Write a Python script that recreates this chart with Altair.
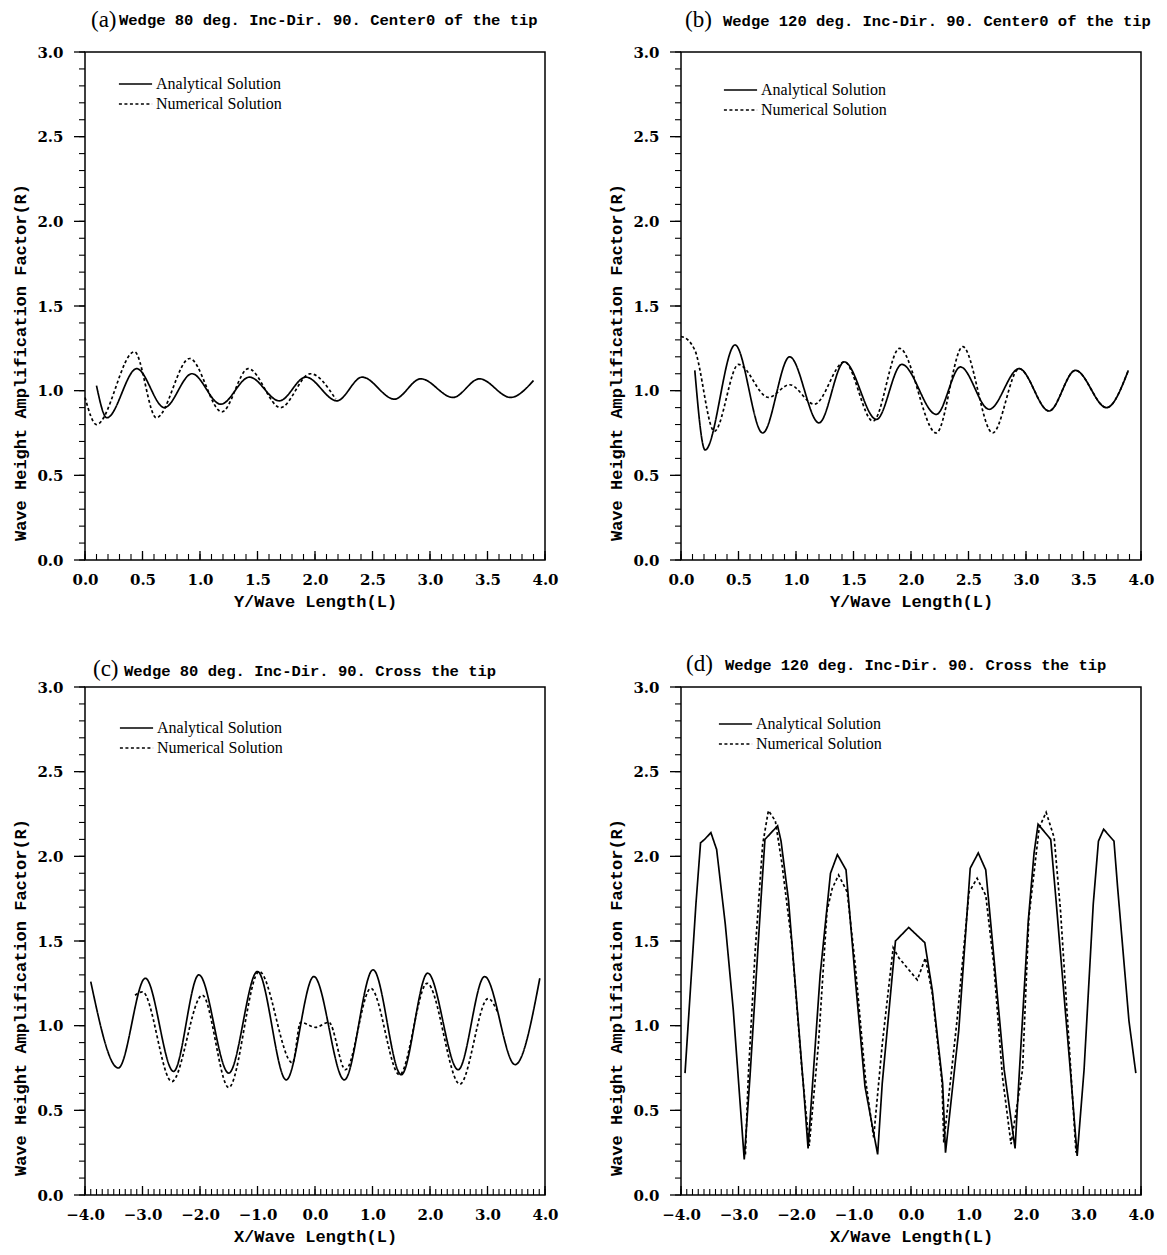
import altair as alt
import pandas as pd

SERIES = ["Analytical Solution", "Numerical Solution"]
Y_TITLE = "Wave Height Amplification Factor(R)"
Y_LABELS = [0.0, 0.5, 1.0, 1.5, 2.0, 2.5, 3.0]
Y_MINOR = [round(i * 0.1, 1) for i in range(31)]
X_LABELS_AB = [0.0, 0.5, 1.0, 1.5, 2.0, 2.5, 3.0, 3.5, 4.0]
X_MINOR_AB = [round(i * 0.1, 1) for i in range(41)]
X_LABELS_CD = [-4.0, -3.0, -2.0, -1.0, 0.0, 1.0, 2.0, 3.0, 4.0]
X_MINOR_CD = [round(-4 + i * 0.1, 1) for i in range(81)]

# ---- panel (a): Wedge 80 deg, along the centre line
A_ANA_X = [0.10, 0.19, 0.45, 0.69, 0.93, 1.18, 1.43, 1.69, 1.92, 2.19, 2.41, 2.69, 2.92, 3.20, 3.43, 3.70, 3.90]
A_ANA_Y = [1.03, 0.84, 1.13, 0.90, 1.10, 0.92, 1.08, 0.94, 1.08, 0.94, 1.08, 0.95, 1.07, 0.96, 1.07, 0.96, 1.06]
A_NUM_X = [0.00, 0.10, 0.43, 0.62, 0.91, 1.19, 1.42, 1.70, 1.96, 2.18]
A_NUM_Y = [0.96, 0.80, 1.23, 0.84, 1.19, 0.875, 1.13, 0.90, 1.10, 0.95]

# ---- panel (b): Wedge 120 deg, along the centre line
B_ANA_X = [0.12, 0.21, 0.47, 0.71, 0.945, 1.20, 1.42, 1.70, 1.92, 2.22, 2.43, 2.68, 2.94, 3.20, 3.43, 3.70, 3.89]
B_ANA_Y = [1.12, 0.65, 1.27, 0.75, 1.20, 0.81, 1.17, 0.83, 1.155, 0.86, 1.14, 0.89, 1.13, 0.88, 1.12, 0.90, 1.12]
B_NUM_X = [0.00, 0.06, 0.12, 0.29, 0.50, 0.76, 0.945, 1.16, 1.42, 1.67, 1.90, 2.22, 2.45, 2.71, 2.94, 3.20, 3.43, 3.70, 3.89]
B_NUM_Y = [1.32, 1.30, 1.24, 0.76, 1.155, 0.96, 1.035, 0.92, 1.17, 0.82, 1.25, 0.75, 1.26, 0.75, 1.13, 0.88, 1.12, 0.90, 1.12]

# ---- panel (c): Wedge 80 deg, across the tip
C_ANA_X = [-3.90, -3.42, -2.95, -2.46, -2.02, -1.50, -1.00, -0.50, -0.02, 0.51, 1.01, 1.50, 1.96, 2.49, 2.95, 3.48, 3.91]
C_ANA_Y = [1.26, 0.75, 1.28, 0.73, 1.30, 0.72, 1.32, 0.68, 1.29, 0.68, 1.33, 0.71, 1.31, 0.74, 1.29, 0.77, 1.28]
C_NUM_X = [-3.13, -3.00, -2.49, -1.96, -1.50, -0.97, -0.39, -0.25, 0.01, 0.24, 0.53, 0.97, 1.47, 1.95, 2.52, 3.01, 3.19]
C_NUM_Y = [1.18, 1.20, 0.67, 1.18, 0.635, 1.32, 0.78, 1.02, 0.99, 1.02, 0.74, 1.22, 0.71, 1.25, 0.655, 1.16, 1.07]

# ---- panel (d): Wedge 120 deg, across the tip
D_ANA_X = [-3.93, -3.74, -3.66, -3.59, -3.48, -3.38, -3.23, -3.09, -2.90, -2.80, -2.61, -2.54, -2.32, -2.26,
           -2.13, -1.87, -1.79, -1.58, -1.40, -1.28, -1.13, -0.97, -0.80, -0.58, -0.50, -0.27, -0.04, 0.24,
           0.37, 0.55, 0.60, 0.83, 1.03, 1.17, 1.30, 1.41, 1.62, 1.81, 1.88, 2.04, 2.14, 2.21, 2.43, 2.52,
           2.78, 2.89, 3.01, 3.17, 3.26, 3.35, 3.53, 3.59, 3.79, 3.91]
D_ANA_Y = [0.72, 1.72, 2.08, 2.10, 2.14, 2.04, 1.60, 1.09, 0.21, 0.70, 1.74, 2.10, 2.18, 2.09,
           1.74, 0.64, 0.275, 1.30, 1.90, 2.01, 1.92, 1.28, 0.64, 0.24, 0.66, 1.50, 1.58, 1.49,
           1.21, 0.66, 0.25, 0.97, 1.93, 2.02, 1.92, 1.52, 0.74, 0.275, 0.70, 1.62, 2.02, 2.19, 2.10, 1.75,
           0.70, 0.23, 0.74, 1.72, 2.09, 2.16, 2.09, 1.83, 1.03, 0.72]
D_NUM_X = [-2.88, -2.83, -2.71, -2.58, -2.48, -2.36, -2.25, -2.07, -1.90, -1.77, -1.61, -1.46, -1.37, -1.26,
           -1.11, -0.97, -0.79, -0.65, -0.50, -0.31, -0.21, 0.11, 0.25, 0.37, 0.54, 0.57, 0.80, 1.01, 1.15,
           1.30, 1.44, 1.59, 1.74, 1.94, 2.05, 2.23, 2.35, 2.49, 2.60, 2.75, 2.87]
D_NUM_Y = [0.24, 0.70, 1.44, 2.07, 2.27, 2.21, 1.97, 1.48, 0.75, 0.29, 0.89, 1.68, 1.81, 1.89,
           1.79, 1.36, 0.68, 0.34, 0.89, 1.46, 1.40, 1.27, 1.40, 1.19, 0.66, 0.31, 1.03, 1.79, 1.87,
           1.77, 1.36, 0.70, 0.30, 0.74, 1.64, 2.17, 2.26, 2.11, 1.68, 0.89, 0.25]

W, H = 460, 508


def panel(letter, title, xtitle, xdomain, xlabels, xminor, xmajor_every,
          ana_x, ana_y, num_x, num_y, interp, title_dx, title_dy, letter_dx, letter_dy,
          leg_x, leg_y):
    df = pd.DataFrame({
        "x": ana_x + num_x,
        "y": ana_y + num_y,
        "s": [SERIES[0]] * len(ana_x) + [SERIES[1]] * len(num_x),
    })
    xs = alt.Scale(domain=xdomain, nice=False, zero=False)
    ys = alt.Scale(domain=[0, 3], nice=False, zero=False)
    xax = alt.Axis(values=xlabels, format=".1f", title=xtitle, ticks=False, domain=False, grid=False,
                   labelPadding=12, titlePadding=6, labelOverlap=False, labelFlush=False)
    yax = alt.Axis(values=Y_LABELS, format=".1f", title=Y_TITLE, ticks=False, domain=False, grid=False,
                   labelPadding=22, titlePadding=7, titleY=310, labelOverlap=False, labelFlush=False)
    lines = alt.Chart(df).mark_line(color="black", strokeWidth=1.7, interpolate=interp).encode(
        x=alt.X("x:Q", scale=xs, axis=xax),
        y=alt.Y("y:Q", scale=ys, axis=yax),
        strokeDash=alt.StrokeDash("s:N", scale=alt.Scale(domain=SERIES, range=[[1, 0], [3, 2.5]]),
                                  legend=alt.Legend(title=None, orient="none", legendX=leg_x, legendY=leg_y,
                                                    symbolType="stroke", symbolSize=1100,
                                                    symbolStrokeWidth=1.4, symbolStrokeColor="black",
                                                    labelFont="Liberation Serif", labelFontSize=16,
                                                    labelColor="black", labelOffset=3,
                                                    clipHeight=20, rowPadding=0)),
    )
    tx = pd.DataFrame({"x": xminor})
    txm = pd.DataFrame({"x": [v for v in xminor if abs(v / xmajor_every - round(v / xmajor_every)) < 1e-6]})
    ty = pd.DataFrame({"y": Y_MINOR})
    tym = pd.DataFrame({"y": Y_LABELS})
    xminor_l = alt.Chart(tx).mark_rule(color="black", strokeWidth=1.1).encode(
        x=alt.X("x:Q", scale=xs, axis=xax), y=alt.value(H), y2=alt.value(H - 6))
    xmajor_l = alt.Chart(txm).mark_rule(color="black", strokeWidth=1.3).encode(
        x=alt.X("x:Q", scale=xs, axis=xax), y=alt.value(H), y2=alt.value(H - 9))
    yminor_l = alt.Chart(ty).mark_rule(color="black", strokeWidth=1.1).encode(
        y=alt.Y("y:Q", scale=ys, axis=yax), x=alt.value(0), x2=alt.value(-6))
    ymajor_l = alt.Chart(tym).mark_rule(color="black", strokeWidth=1.3).encode(
        y=alt.Y("y:Q", scale=ys, axis=yax), x=alt.value(0), x2=alt.value(-11))
    lab = pd.DataFrame({"letter": [letter], "title": [title]})
    let = alt.Chart(lab).mark_text(
        font="Liberation Serif", fontSize=23, align="left", baseline="alphabetic", color="black"
    ).encode(text="letter:N", x=alt.value(letter_dx), y=alt.value(letter_dy))
    ttl = alt.Chart(lab).mark_text(
        font="Liberation Mono", fontSize=15.5, fontWeight="bold", align="left", baseline="alphabetic",
        color="black"
    ).encode(text="title:N", x=alt.value(title_dx), y=alt.value(title_dy))
    return alt.layer(lines, xminor_l, xmajor_l, yminor_l, ymajor_l, let, ttl).properties(
        width=W, height=H)


pa = panel("(a)", "Wedge 80 deg. Inc-Dir. 90. Center0 of the tip", "Y/Wave Length(L)", [0, 4],
           X_LABELS_AB, X_MINOR_AB, 0.5, A_ANA_X, A_ANA_Y, A_NUM_X, A_NUM_Y, "monotone",
           34, -27, 6, -25, 33, 22)
pb = panel("(b)", "Wedge 120 deg. Inc-Dir. 90. Center0 of the tip", "Y/Wave Length(L)", [0, 4],
           X_LABELS_AB, X_MINOR_AB, 0.5, B_ANA_X, B_ANA_Y, B_NUM_X, B_NUM_Y, "monotone",
           42, -26, 4, -25, 42, 28)
pc = panel("(c)", "Wedge 80 deg. Inc-Dir. 90. Cross the tip", "X/Wave Length(L)", [-4, 4],
           X_LABELS_CD, X_MINOR_CD, 1.0, C_ANA_X, C_ANA_Y, C_NUM_X, C_NUM_Y, "monotone",
           39, -11, 8, -11, 34, 31)
pd_ = panel("(d)", "Wedge 120 deg. Inc-Dir. 90. Cross the tip", "X/Wave Length(L)", [-4, 4],
            X_LABELS_CD, X_MINOR_CD, 1.0, D_ANA_X, D_ANA_Y, D_NUM_X, D_NUM_Y, "linear",
            44, -17, 5, -16, 37, 27)


def res(c):
    return c.resolve_scale(x="independent", y="independent", strokeDash="independent").resolve_legend(
        strokeDash="independent").resolve_axis(x="independent", y="independent")


row1 = res(alt.hconcat(pa, pb, spacing=48))
row2 = res(alt.hconcat(pc, pd_, spacing=48))
chart = res(alt.vconcat(row1, row2, spacing=42)).properties(
    padding={"left": 3, "top": 0, "right": 0, "bottom": 0},
    background="white",
).configure_view(stroke="black", strokeWidth=1.5).configure_axis(
    labelFont="DejaVu Serif", labelFontWeight="bold", labelFontSize=15, labelColor="black",
    titleFont="Liberation Mono", titleFontWeight="bold", titleFontSize=17, titleColor="black",
)

chart.save("out.html", embed_options={"renderer": "svg", "actions": False})
